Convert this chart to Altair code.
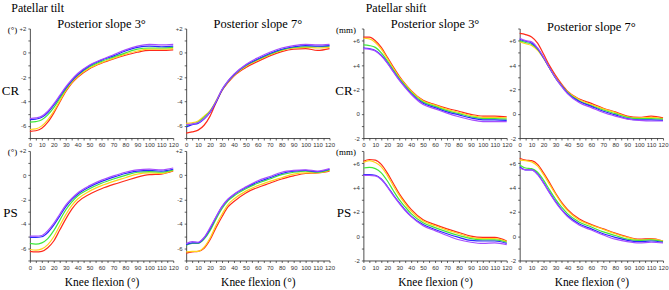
import altair as alt
import pandas as pd

# ---------------- data ----------------
knee_deg = [0, 5, 10, 15, 20, 25, 30, 35, 40, 50, 60, 70, 80, 90, 100, 110, 120]
series_names = ["Series 1", "Series 2", "Series 3", "Series 4", "Series 5"]
series_colors = ["#ff2a1a", "#ffd21a", "#3ee83a", "#2a2aff", "#a64dff"]

# Patellar tilt, posterior slope 3°, CR  (red, yellow, green, blue, purple)
tilt_s3_cr = [
    [-6.45, -6.4, -6.2, -5.7, -4.95, -4.05, -3.2, -2.5, -2.0, -1.3, -0.85, -0.5, -0.2, 0.05, 0.2, 0.2, 0.25],
    [-6.3, -6.25, -6.0, -5.5, -4.8, -3.95, -3.1, -2.45, -1.95, -1.25, -0.8, -0.45, -0.1, 0.15, 0.3, 0.3, 0.35],
    [-5.7, -5.65, -5.5, -5.1, -4.5, -3.75, -3.0, -2.35, -1.85, -1.15, -0.7, -0.35, 0.0, 0.3, 0.4, 0.4, 0.45],
    [-5.5, -5.45, -5.3, -4.9, -4.3, -3.6, -2.9, -2.3, -1.8, -1.05, -0.6, -0.25, 0.15, 0.45, 0.55, 0.5, 0.55],
    [-5.4, -5.35, -5.2, -4.8, -4.2, -3.5, -2.8, -2.2, -1.7, -1.0, -0.55, -0.15, 0.25, 0.55, 0.7, 0.65, 0.7],
]
# Patellar tilt, posterior slope 7°, CR
tilt_s7_cr = [
    [-6.6, -6.5, -6.35, -5.95, -5.2, -4.1, -3.1, -2.45, -1.9, -1.2, -0.7, -0.25, 0.1, 0.3, 0.35, 0.2, 0.35],
    [-5.8, -5.75, -5.6, -5.2, -4.75, -3.95, -3.05, -2.4, -1.85, -1.1, -0.6, -0.15, 0.2, 0.4, 0.45, 0.4, 0.45],
    [-6.0, -5.85, -5.7, -5.3, -4.8, -4.0, -3.05, -2.35, -1.8, -1.05, -0.55, -0.1, 0.25, 0.45, 0.5, 0.5, 0.55],
    [-6.1, -5.9, -5.8, -5.45, -4.9, -4.05, -3.05, -2.35, -1.8, -1.0, -0.5, -0.05, 0.3, 0.5, 0.6, 0.55, 0.6],
    [-5.9, -5.85, -5.75, -5.4, -4.85, -4.0, -3.0, -2.3, -1.75, -0.95, -0.4, 0.05, 0.4, 0.6, 0.7, 0.65, 0.7],
]
# Patellar tilt, posterior slope 3°, PS
tilt_s3_ps = [
    [-6.25, -6.3, -6.25, -5.95, -5.4, -4.5, -3.6, -2.8, -2.2, -1.55, -1.1, -0.75, -0.45, -0.15, 0.05, 0.1, 0.35],
    [-6.1, -6.15, -6.05, -5.7, -5.05, -4.15, -3.25, -2.5, -1.95, -1.3, -0.85, -0.5, -0.2, 0.1, 0.2, 0.15, 0.4],
    [-5.6, -5.65, -5.55, -5.2, -4.55, -3.7, -2.85, -2.2, -1.7, -1.1, -0.65, -0.3, 0.0, 0.25, 0.3, 0.25, 0.45],
    [-5.1, -5.1, -5.05, -4.7, -4.1, -3.35, -2.6, -2.0, -1.55, -0.95, -0.5, -0.15, 0.15, 0.35, 0.4, 0.35, 0.5],
    [-5.0, -5.0, -4.95, -4.55, -3.95, -3.2, -2.45, -1.9, -1.45, -0.85, -0.4, -0.05, 0.25, 0.45, 0.5, 0.45, 0.6],
]
# Patellar tilt, posterior slope 7°, PS
tilt_s7_ps = [
    [-6.4, -6.3, -6.25, -6.0, -5.3, -4.3, -3.4, -2.6, -2.15, -1.45, -1.0, -0.65, -0.3, -0.05, 0.15, 0.2, 0.35],
    [-6.3, -6.25, -6.25, -5.9, -5.15, -4.1, -3.2, -2.4, -1.95, -1.3, -0.85, -0.5, -0.2, 0.1, 0.2, 0.2, 0.4],
    [-5.75, -5.6, -5.6, -5.25, -4.55, -3.6, -2.75, -2.1, -1.7, -1.1, -0.65, -0.3, 0.05, 0.25, 0.35, 0.25, 0.45],
    [-5.7, -5.55, -5.55, -5.15, -4.4, -3.45, -2.6, -2.0, -1.6, -1.0, -0.55, -0.2, 0.15, 0.35, 0.4, 0.3, 0.5],
    [-5.6, -5.45, -5.5, -5.1, -4.3, -3.4, -2.55, -1.95, -1.55, -0.95, -0.45, -0.1, 0.25, 0.4, 0.45, 0.35, 0.55],
]
# Patellar shift, posterior slope 3°, CR
shift_s3_cr = [
    [6.3, 6.3, 6.0, 5.45, 4.65, 3.85, 3.1, 2.45, 1.9, 1.1, 0.75, 0.45, 0.2, -0.05, -0.2, -0.2, -0.25],
    [6.2, 6.15, 5.85, 5.3, 4.55, 3.75, 3.0, 2.4, 1.85, 1.05, 0.7, 0.35, 0.1, -0.15, -0.3, -0.3, -0.35],
    [5.65, 5.6, 5.45, 5.0, 4.35, 3.6, 2.9, 2.3, 1.75, 0.95, 0.6, 0.25, 0.0, -0.25, -0.4, -0.4, -0.45],
    [5.4, 5.35, 5.2, 4.8, 4.2, 3.5, 2.8, 2.2, 1.65, 0.85, 0.5, 0.15, -0.1, -0.35, -0.5, -0.5, -0.55],
    [5.35, 5.3, 5.15, 4.75, 4.15, 3.45, 2.75, 2.15, 1.6, 0.75, 0.4, 0.05, -0.25, -0.5, -0.65, -0.65, -0.65],
]
# Patellar shift, posterior slope 7°, CR
shift_s7_cr = [
    [6.6, 6.5, 6.3, 5.8, 4.9, 3.95, 3.15, 2.45, 1.85, 1.2, 0.85, 0.45, 0.15, -0.2, -0.3, -0.2, -0.35],
    [5.9, 5.75, 5.6, 5.2, 4.55, 3.75, 3.0, 2.35, 1.8, 1.15, 0.75, 0.4, 0.1, -0.25, -0.35, -0.3, -0.4],
    [6.0, 5.85, 5.7, 5.3, 4.6, 3.75, 2.95, 2.3, 1.75, 1.05, 0.65, 0.3, 0.0, -0.3, -0.4, -0.4, -0.45],
    [6.1, 5.95, 5.8, 5.35, 4.6, 3.75, 2.95, 2.3, 1.7, 1.0, 0.6, 0.2, -0.1, -0.4, -0.5, -0.5, -0.55],
    [6.2, 6.0, 5.9, 5.4, 4.65, 3.75, 2.95, 2.25, 1.65, 0.9, 0.5, 0.1, -0.2, -0.45, -0.55, -0.6, -0.6],
]
# Patellar shift, posterior slope 3°, PS
shift_s3_ps = [
    [6.15, 6.3, 6.25, 5.9, 5.2, 4.35, 3.5, 2.8, 2.2, 1.35, 0.95, 0.6, 0.3, 0.0, -0.1, -0.1, -0.4],
    [6.05, 6.2, 6.05, 5.7, 5.0, 4.15, 3.35, 2.65, 2.05, 1.25, 0.85, 0.5, 0.2, -0.1, -0.2, -0.2, -0.45],
    [5.6, 5.65, 5.55, 5.2, 4.55, 3.75, 3.0, 2.4, 1.85, 1.1, 0.7, 0.35, 0.05, -0.2, -0.3, -0.3, -0.5],
    [5.05, 5.05, 5.0, 4.7, 4.1, 3.4, 2.75, 2.15, 1.65, 0.95, 0.55, 0.2, -0.1, -0.35, -0.4, -0.4, -0.6],
    [5.0, 5.0, 4.95, 4.65, 4.05, 3.35, 2.7, 2.1, 1.6, 0.85, 0.45, 0.05, -0.3, -0.5, -0.6, -0.55, -0.7],
]
# Patellar shift, posterior slope 7°, PS
shift_s7_ps = [
    [6.4, 6.25, 6.2, 5.9, 5.2, 4.4, 3.55, 2.8, 2.2, 1.4, 0.95, 0.6, 0.25, -0.05, -0.25, -0.2, -0.4],
    [6.25, 6.2, 6.1, 5.75, 5.05, 4.25, 3.45, 2.7, 2.1, 1.3, 0.9, 0.55, 0.2, -0.1, -0.3, -0.25, -0.4],
    [5.85, 5.6, 5.55, 5.25, 4.6, 3.8, 3.05, 2.4, 1.85, 1.15, 0.75, 0.35, 0.05, -0.25, -0.35, -0.3, -0.45],
    [5.7, 5.45, 5.45, 5.1, 4.4, 3.6, 2.85, 2.2, 1.7, 1.0, 0.6, 0.2, -0.1, -0.35, -0.45, -0.4, -0.5],
    [5.6, 5.45, 5.45, 5.05, 4.35, 3.55, 2.8, 2.15, 1.6, 0.9, 0.5, 0.1, -0.25, -0.45, -0.55, -0.5, -0.55],
]

x_tick_values = list(range(0, 121, 5))          # labelled every 10°
tilt_dom, tilt_tick_values = [-7, 2], list(range(-7, 3))
shift_dom, shift_tick_values = [-2, 7], list(range(-2, 8))

SERIF = "Liberation Serif"
SANS = "Liberation Sans"
W, H = 144, 110


def to_frame(series_lists):
    rows = []
    for name, vals in zip(series_names, series_lists):
        for k, v in zip(knee_deg, vals):
            rows.append({"knee": k, "value": v, "series": name})
    return pd.DataFrame(rows)


X_LABELS = "datum.value % 10 == 0 ? datum.label : ''"
Y_LABELS = "datum.value % 2 != 0 ? '' : (datum.value > 0 ? '+' + datum.value : '' + datum.value)"


def panel(series_lists, ydom, yticks, top_title=None, row_label=None, unit=None, xtitle=None):
    df = to_frame(series_lists)
    xscale = alt.Scale(domain=[0, 120], nice=False)
    if xtitle:
        x = alt.X("knee:Q", scale=xscale,
                  axis=alt.Axis(values=x_tick_values, labelExpr=X_LABELS, labelFlush=False,
                                titlePadding=6, titleFontSize=11.5, titleFont=SERIF,
                                titleFontWeight="normal", titleColor="black"),
                  title=xtitle)
    else:
        x = alt.X("knee:Q", scale=xscale,
                  axis=alt.Axis(values=x_tick_values, labelExpr=X_LABELS, labelFlush=False),
                  title=None)
    yscale = alt.Scale(domain=ydom, nice=False, zero=False)
    if row_label:
        yaxis = alt.Axis(values=yticks, labelExpr=Y_LABELS, orient="left",
                         titleAngle=0, titleX=-20, titleY=62, titleAlign="center",
                         titleBaseline="middle", titleFontSize=13, titleFont=SERIF,
                         titleFontWeight="normal", labelFlush=False)
        y = alt.Y("value:Q", scale=yscale, axis=yaxis, title=row_label)
    else:
        y = alt.Y("value:Q", scale=yscale,
                  axis=alt.Axis(values=yticks, labelExpr=Y_LABELS, orient="left", labelFlush=False),
                  title=None)
    color = alt.Color("series:N", scale=alt.Scale(domain=series_names, range=series_colors), legend=None)
    lines = alt.Chart(df).mark_line(strokeWidth=1.2, interpolate="monotone").encode(
        x=x, y=y, color=color, order=alt.Order("knee:Q"))
    chart = lines
    if unit:
        unit_axis = alt.Axis(orient="left", labels=False, ticks=False, domain=False, grid=False,
                             titleAngle=0, titleX=-18, titleY=1, titleAlign="center",
                             titleBaseline="middle", titleFontSize=9, titleFont=SERIF,
                             titleFontWeight="normal")
        dummy = alt.Chart(df).mark_point(opacity=0).encode(
            x=x, y=alt.Y("value:Q", scale=yscale, axis=unit_axis, title=unit))
        chart = alt.layer(lines, dummy).resolve_axis(y="independent")
    props = dict(width=W, height=H)
    if top_title:
        props["title"] = alt.TitleParams(top_title, font=SERIF, fontSize=12.5, fontWeight="normal",
                                         anchor="middle", offset=-5, color="black")
    return chart.properties(**props)


tilt_group = alt.concat(
    panel(tilt_s3_cr, tilt_dom, tilt_tick_values, top_title="Posterior slope 3°", row_label="CR", unit="(°)"),
    panel(tilt_s7_cr, tilt_dom, tilt_tick_values, top_title="Posterior slope 7°"),
    panel(tilt_s3_ps, tilt_dom, tilt_tick_values, row_label="PS", unit="(°)", xtitle="Knee flexion (°)"),
    panel(tilt_s7_ps, tilt_dom, tilt_tick_values, xtitle="Knee flexion (°)"),
    columns=2, spacing={"row": 13, "column": 13}, bounds="flush",
    title=alt.TitleParams("Patellar tilt", anchor="start", font=SERIF, fontSize=12,
                          fontWeight="normal", dx=10, offset=3, color="black"),
)

shift_group = alt.concat(
    panel(shift_s3_cr, shift_dom, shift_tick_values, top_title="Posterior slope 3°", row_label="CR", unit="(mm)"),
    panel(shift_s7_cr, shift_dom, shift_tick_values, top_title="Posterior slope 7°"),
    panel(shift_s3_ps, shift_dom, shift_tick_values, row_label="PS", unit="(mm)", xtitle="Knee flexion (°)"),
    panel(shift_s7_ps, shift_dom, shift_tick_values, xtitle="Knee flexion (°)"),
    columns=2, spacing={"row": 13, "column": 13}, bounds="flush",
    title=alt.TitleParams("Patellar shift", anchor="start", font=SERIF, fontSize=12,
                          fontWeight="normal", dx=31, offset=3, color="black"),
)

chart = alt.hconcat(tilt_group, shift_group, spacing=-1).properties(
    padding={"left": 1, "top": 1, "right": 0, "bottom": 0}
).configure_view(strokeOpacity=0).configure_axis(
    labelFont=SANS, labelFontSize=6, labelColor="#333333", labelPadding=2,
    tickSize=2, tickColor="#222222", tickWidth=0.7,
    domainColor="#222222", domainWidth=0.8, grid=False,
    titleFont=SERIF, titleFontWeight="normal", titleColor="black",
)

chart.save("out.html", embed_options={"renderer": "svg", "actions": False})
